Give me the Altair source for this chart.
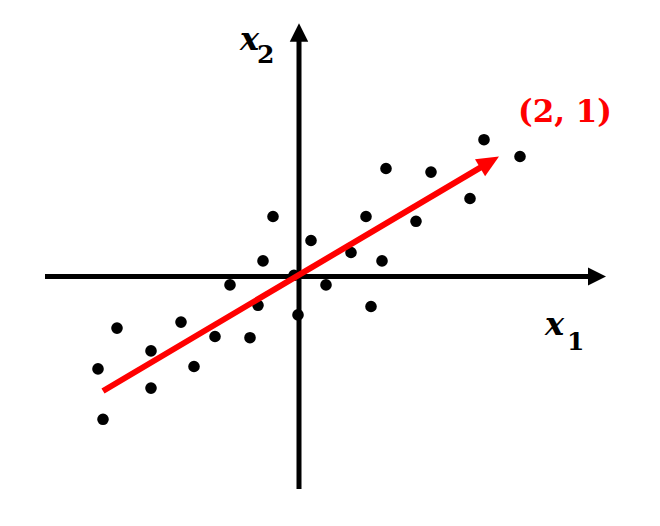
import altair as alt
import pandas as pd

# scatter points (data units)
pts_x = [-1.82, -1.18, -1.48, -0.84, -0.49, -2.01, -1.05, -1.48, -1.96, -0.41,
         -0.26, 0.67, 0.12, 0.52, -0.36, 0.83, -0.05, -0.69, 0.27, -0.01,
         0.72, 1.85, 2.21, 0.87, 1.32, 1.71, 1.17]
pts_y = [-0.43, -0.38, -0.62, -0.50, -0.51, -0.77, -0.75, -0.93, -1.19, -0.24,
         0.50, 0.50, 0.30, 0.20, 0.13, 0.13, 0.01, -0.07, -0.07, -0.32,
         -0.25, 1.14, 1.00, 0.90, 0.87, 0.65, 0.46]

# principal direction vector
vec_tail = [-1.96, -0.954]
vec_tip = [2.0, 1.0]
vec_label = "(2, 1)"

X_DOM = [-2.91, 3.53]
Y_DOM = [-2.0125, 2.2375]

xs = alt.Scale(domain=X_DOM, nice=False, zero=False)
ys = alt.Scale(domain=Y_DOM, nice=False, zero=False)

def X(f="x"):
    return alt.X(f"{f}:Q", scale=xs, axis=None)

def Y(f="y"):
    return alt.Y(f"{f}:Q", scale=ys, axis=None)

pts = pd.DataFrame({"x": pts_x, "y": pts_y})

# axes
xaxis = alt.Chart(pd.DataFrame({"x": [-2.54], "x2": [2.93], "y": [0.0]})).mark_rule(
    color="black", strokeWidth=5, strokeCap="butt"
).encode(x=X(), x2="x2:Q", y=Y())
yaxis = alt.Chart(pd.DataFrame({"x": [0.0], "y": [-1.77], "y2": [1.99]})).mark_rule(
    color="black", strokeWidth=5, strokeCap="butt"
).encode(x=X(), y=Y(), y2="y2:Q")

xhead = alt.Chart(pd.DataFrame({"x": [3.07], "y": [0.0]})).mark_point(
    shape="M0,0 L-2,-1 L-2,1 Z", filled=True, color="black", opacity=1, size=324
).encode(x=X(), y=Y())
yhead = alt.Chart(pd.DataFrame({"x": [0.0], "y": [2.11]})).mark_point(
    shape="M0,0 L-1,2 L1,2 Z", filled=True, color="black", opacity=1, size=340
).encode(x=X(), y=Y())

scatter = alt.Chart(pts).mark_circle(color="black", opacity=1, size=135).encode(
    x=X(), y=Y()
)

t = 0.972
vec_end = [vec_tail[0] + t * (vec_tip[0] - vec_tail[0]),
           vec_tail[1] + t * (vec_tip[1] - vec_tail[1])]
red_line = alt.Chart(pd.DataFrame({"x": [vec_tail[0]], "y": [vec_tail[1]],
                                   "x2": [vec_end[0]], "y2": [vec_end[1]]})).mark_rule(
    color="#ff0000", strokeWidth=6, strokeCap="butt"
).encode(x=X(), y=Y(), x2="x2:Q", y2="y2:Q")
red_head = alt.Chart(pd.DataFrame({"x": [vec_tip[0]], "y": [vec_tip[1]]})).mark_point(
    shape="M0,0 L-2,-0.9 L-2,0.9 Z", filled=True, color="#ff0000", opacity=1,
    size=484, angle=329.4
).encode(x=X(), y=Y())

red_text = alt.Chart(pd.DataFrame({"x": [2.66], "y": [1.2875], "t": [vec_label]})).mark_text(
    font="DejaVu Serif", fontWeight="bold", fontSize=31, color="#ff0000",
    align="center", baseline="alphabetic"
).encode(x=X(), y=Y(), text="t:N")

# axis labels
lab_main = pd.DataFrame({"x": [-0.59, 2.46], "y": [1.8875, -0.4875], "t": ["x", "x"]})
lab_sub = pd.DataFrame({"x": [-0.42, 2.68], "y": [1.779, -0.6125], "t": ["2", "1"]})
main_txt = alt.Chart(lab_main).mark_text(
    font="DejaVu Serif", fontStyle="italic", fontWeight="bold", fontSize=32,
    color="black", align="left", baseline="alphabetic"
).encode(x=X(), y=Y(), text="t:N")
sub_txt = alt.Chart(lab_sub).mark_text(
    font="DejaVu Serif", fontWeight="bold", fontSize=25,
    color="black", align="left", baseline="alphabetic"
).encode(x=X(), y=Y(), text="t:N")

chart = alt.layer(
    xaxis, yaxis, xhead, yhead, scatter, red_line, red_head, red_text, main_txt, sub_txt
).properties(width=644, height=510, padding=0, background="white").configure_view(
    stroke=None
)

chart.save("out.html", embed_options={"renderer": "svg", "actions": False})
